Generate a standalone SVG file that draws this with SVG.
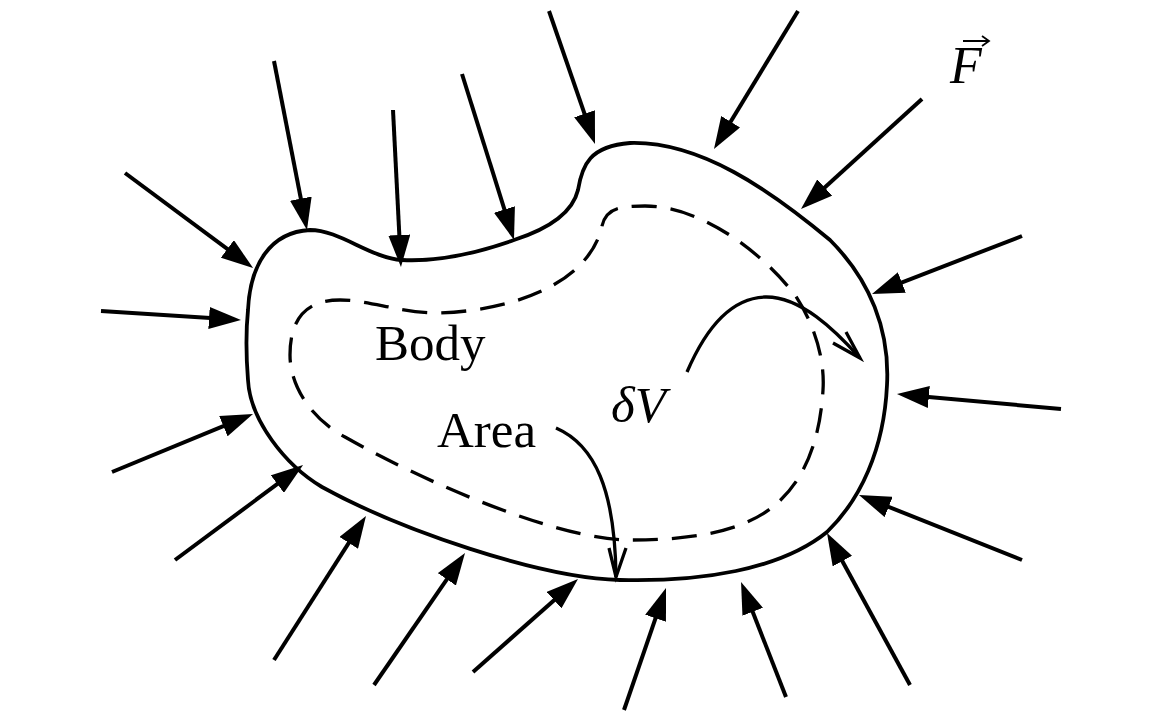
<svg xmlns="http://www.w3.org/2000/svg" width="1149" height="711" viewBox="0 0 1149 711">
<style>
.body{fill:none;stroke:#000;stroke-width:3.8}
.dash{fill:none;stroke:#000;stroke-width:3.3;stroke-dasharray:25 14}
.force{stroke:#000;stroke-width:4;fill:none;marker-end:url(#ah)}
.lead{fill:none;stroke:#000;stroke-width:3.3}
.lbl{font-family:"Liberation Serif","Times New Roman",serif;font-size:51px;fill:#000}
.it{font-style:italic}
</style>
<defs>
<marker id="ah" viewBox="0 0 32 22" refX="17" refY="11" markerWidth="32" markerHeight="22" markerUnits="userSpaceOnUse" orient="auto">
<path d="M0,0 L32,11 L0,22 z" fill="#000"/>
</marker>
</defs>
<rect width="1149" height="711" fill="#fff"/>
<g id="body">
<path class="body" d="M310,230 C340,230 370,258 402,260 C440,262 480,252 514,240 C545,230 572,215 578,190 C582,165 590,146 630,143 C700,141 770,190 830,240 C870,280 890,330 887,385 C884,450 860,500 827,532 C780,570 700,582 620,580 C540,578 400,530 322,487 C285,465 250,420 248,380 C246,355 246,330 248,310 C250,265 270,232 310,230 Z"/>
</g>
<g id="area-contour">
<path class="dash" d="M602,226 C606,208 620,206 645,206 C700,206 760,250 795,295 C815,325 825,360 823,390 C820,440 805,480 775,505 C740,535 680,540 630,540 C560,540 430,485 345,437 C310,418 290,385 290,355 C290,320 305,300 340,300 C370,300 400,313 440,313 C520,310 590,280 602,226"/>
</g>
<g id="labels">
<text class="lbl" x="375" y="360">Body</text>
<text class="lbl" x="437" y="447">Area</text>
<text class="lbl it" x="611" y="422">δV</text>
<text class="lbl it" x="950" y="83" style="font-size:52px">F</text>
<path class="lead" d="M963,41 L988,41 M982,36 L989,41 L982,46" style="stroke-width:1.8"/>
</g>
<g id="connectors">
<path class="lead" d="M687,372 C705,330 730,298 765,297 C800,296 835,330 860,358"/>
<path class="lead" d="M833,343 L860,358 L846,332"/>
<path class="lead" d="M556,428 C595,445 615,490 616,577"/>
<path class="lead" d="M609,548 L616,577 L626,548"/>
<line class="force" x1="125" y1="173" x2="241.0" y2="259.1"/>
<line class="force" x1="101" y1="311" x2="226.0" y2="319.0"/>
<line class="force" x1="112" y1="472" x2="239.1" y2="419.7"/>
<line class="force" x1="175" y1="560" x2="291.0" y2="473.9"/>
<line class="force" x1="274" y1="660" x2="357.9" y2="528.6"/>
<line class="force" x1="374" y1="685" x2="456.5" y2="565.3"/>
<line class="force" x1="473" y1="672" x2="566.8" y2="588.9"/>
<line class="force" x1="624" y1="710" x2="661.1" y2="602.2"/>
<line class="force" x1="786" y1="697" x2="746.5" y2="596.0"/>
<line class="force" x1="910" y1="685" x2="834.2" y2="546.2"/>
<line class="force" x1="1022" y1="560" x2="872.9" y2="500.6"/>
<line class="force" x1="1061" y1="409" x2="911.9" y2="395.4"/>
<line class="force" x1="1022" y1="236" x2="886.0" y2="288.6"/>
<line class="force" x1="922" y1="99" x2="812.1" y2="198.9"/>
<line class="force" x1="798" y1="11" x2="721.8" y2="136.2"/>
<line class="force" x1="549" y1="11" x2="590.1" y2="129.8"/>
<line class="force" x1="462" y1="74" x2="509.5" y2="225.7"/>
<line class="force" x1="393" y1="110" x2="400.2" y2="252.0"/>
<line class="force" x1="274" y1="61" x2="304.1" y2="215.3"/>
</g>
</svg>
